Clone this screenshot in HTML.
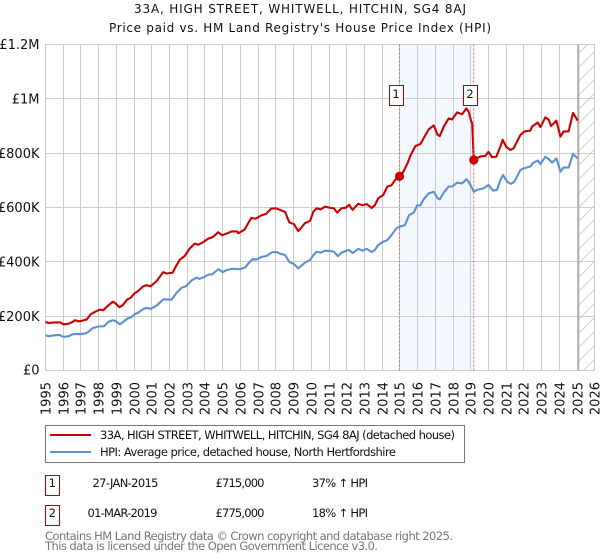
<!DOCTYPE html>
<html lang="en">
<head>
<meta charset="utf-8">
<title>33A, HIGH STREET, WHITWELL, HITCHIN, SG4 8AJ</title>
<style>
html,body{margin:0;padding:0;background:#fff;}
svg{display:block;font-family:"DejaVu Sans","Liberation Sans",sans-serif;}
text{fill:#111;}
</style>
</head>
<body>
<svg id="chart" xmlns="http://www.w3.org/2000/svg" width="600" height="560" viewBox="0 0 600 560">
<defs>
<pattern id="hatch" patternUnits="userSpaceOnUse" width="14" height="14" x="1" y="1">
<line x1="-1" y1="15" x2="15" y2="-1" stroke="#cfcfcf" stroke-width="1"/>
</pattern>
</defs>
<text x="300" y="13" font-size="12" text-anchor="middle" textLength="332" lengthAdjust="spacing">33A, HIGH STREET, WHITWELL, HITCHIN, SG4 8AJ</text>
<text x="300" y="32" font-size="12" text-anchor="middle" textLength="382" lengthAdjust="spacing">Price paid vs. HM Land Registry's House Price Index (HPI)</text>
<g id="plot-under"></g>
<g id="grid"></g>
<g id="y-axis"></g>
<g id="x-axis"></g>
<g id="series"></g>
<g id="sales"></g>

<rect x="45.5" y="425.5" width="419" height="37" fill="#fff" stroke="#777" stroke-width="1"/>
<line x1="50" y1="435" x2="91" y2="435" stroke="#cc0000" stroke-width="2"/>
<text x="100" y="439" font-size="11.5" textLength="355" lengthAdjust="spacing">33A, HIGH STREET, WHITWELL, HITCHIN, SG4 8AJ (detached house)</text>
<line x1="50" y1="452" x2="91" y2="452" stroke="#5f8fd2" stroke-width="2"/>
<text x="100" y="456" font-size="11.5" textLength="296" lengthAdjust="spacing">HPI: Average price, detached house, North Hertfordshire</text>

<rect x="45.5" y="475.5" width="14" height="20" fill="#fff" stroke="#b00000" stroke-width="1"/>
<text x="52.3" y="487" font-size="11.5" text-anchor="middle">1</text>
<text x="125.5" y="487" font-size="11.5" text-anchor="middle" textLength="66" lengthAdjust="spacing">27-JAN-2015</text>
<text x="240" y="487" font-size="11.5" text-anchor="middle" textLength="49" lengthAdjust="spacing">£715,000</text>
<text x="340" y="487" font-size="11.5" text-anchor="middle" textLength="56" lengthAdjust="spacing">37% ↑ HPI</text>

<rect x="45.5" y="505.5" width="14" height="20" fill="#fff" stroke="#b00000" stroke-width="1"/>
<text x="52.3" y="517" font-size="11.5" text-anchor="middle">2</text>
<text x="122.5" y="517" font-size="11.5" text-anchor="middle" textLength="70" lengthAdjust="spacing">01-MAR-2019</text>
<text x="240" y="517" font-size="11.5" text-anchor="middle" textLength="49" lengthAdjust="spacing">£775,000</text>
<text x="340" y="517" font-size="11.5" text-anchor="middle" textLength="56" lengthAdjust="spacing">18% ↑ HPI</text>

<text x="45" y="540" font-size="11.5" style="fill:#777" textLength="408" lengthAdjust="spacing">Contains HM Land Registry data © Crown copyright and database right 2025.</text>
<text x="45" y="550" font-size="11.5" style="fill:#777" textLength="333" lengthAdjust="spacing">This data is licensed under the Open Government Licence v3.0.</text>
</svg>
<script>
const priceDates = [1995.0,1995.17,1995.54,1995.83,1996.01,1996.29,1996.48,1996.67,1996.86,1997.05,1997.33,1997.55,1997.8,1998.04,1998.26,1998.55,1998.79,1998.92,1999.17,1999.35,1999.62,1999.8,2000.01,2000.23,2000.52,2000.7,2000.93,2001.27,2001.64,2001.83,2002.17,2002.39,2002.58,2002.86,2003.14,2003.42,2003.61,2003.89,2004.17,2004.46,2004.74,2004.96,2005.3,2005.49,2005.81,2005.88,2006.24,2006.43,2006.61,2006.86,2007.18,2007.46,2007.74,2008.02,2008.24,2008.52,2008.76,2009.02,2009.27,2009.64,2009.93,2010.12,2010.3,2010.53,2010.77,2011.05,2011.28,2011.46,2011.71,2011.94,2012.13,2012.33,2012.65,2012.9,2013.12,2013.41,2013.59,2013.78,2014.06,2014.29,2014.53,2014.72,2014.98,2015.2,2015.43,2015.59,2015.87,2016.16,2016.34,2016.63,2016.91,2017.13,2017.25,2017.47,2017.75,2017.94,2018.23,2018.51,2018.75,2018.88,2019.03,2019.08,2019.17,2019.54,2019.82,2020.0,2020.2,2020.44,2020.67,2020.8,2021.0,2021.23,2021.42,2021.8,2022.03,2022.36,2022.46,2022.78,2022.93,2023.21,2023.4,2023.53,2023.83,2024.06,2024.24,2024.52,2024.77,2025.03];
const priceValues = [179,175,177,177,170,172,177,185,181,183,188,207,216,224,222,240,253,249,233,240,262,267,283,293,310,314,310,329,362,357,360,387,408,422,449,467,463,472,485,492,509,498,506,512,512,505,519,541,561,559,571,577,596,597,591,584,545,539,513,542,551,585,597,593,603,599,597,581,597,599,610,591,614,608,613,598,609,634,646,677,682,701,715,732,763,790,826,834,855,888,902,867,863,897,928,924,950,943,965,953,916,910,775,788,790,805,785,787,824,849,824,812,818,867,880,883,898,913,896,932,923,900,920,861,880,880,948,920];
const hpiDates = [1995.0,1995.16,1995.54,1995.78,1996.0,1996.29,1996.57,1996.95,1997.23,1997.42,1997.66,1997.98,1998.3,1998.55,1998.79,1998.92,1999.2,1999.39,1999.62,1999.86,2000.05,2000.24,2000.52,2000.71,2000.94,2001.28,2001.65,2001.84,2002.12,2002.4,2002.69,2002.93,2003.25,2003.53,2003.68,2003.95,2004.19,2004.38,2004.76,2005.0,2005.23,2005.51,2005.83,2005.98,2006.26,2006.45,2006.7,2006.88,2007.2,2007.48,2007.77,2008.05,2008.24,2008.52,2008.76,2009.02,2009.27,2009.64,2009.93,2010.12,2010.3,2010.53,2010.77,2011.05,2011.28,2011.5,2011.73,2012.13,2012.33,2012.65,2012.9,2013.12,2013.41,2013.59,2013.78,2014.06,2014.29,2014.53,2014.8,2014.97,2015.28,2015.52,2015.78,2015.97,2016.16,2016.34,2016.63,2016.91,2017.13,2017.25,2017.47,2017.75,2017.94,2018.23,2018.51,2018.75,2018.88,2019.03,2019.17,2019.36,2019.73,2020.0,2020.25,2020.48,2020.67,2020.82,2021.05,2021.27,2021.46,2021.8,2022.03,2022.36,2022.5,2022.78,2022.93,2023.21,2023.4,2023.59,2023.83,2024.06,2024.24,2024.52,2024.77,2025.03];
const hpiValues = [130,126,130,131,124,126,134,134,136,142,156,162,163,179,185,183,170,179,191,197,208,213,227,230,227,239,262,261,261,286,305,310,332,342,337,344,353,353,373,362,370,374,374,373,379,394,411,408,418,422,435,436,430,425,400,392,376,397,407,425,437,434,441,440,437,421,435,444,432,448,441,448,436,444,462,474,480,499,523,529,535,572,581,607,608,630,652,658,634,630,654,677,677,691,689,704,695,677,658,665,671,683,662,665,701,720,695,687,695,738,745,751,763,773,760,787,778,765,781,732,747,747,797,781];
const saleDates = [2014.98, 2019.17];
const saleValues = [715, 775];
const saleLabels = ['1', '2'];
const yTickValues = [0, 200, 400, 600, 800, 1000, 1200];
const yTickLabels = ['£0', '£200K', '£400K', '£600K', '£800K', '£1M', '£1.2M'];
const xTickYears = [1995,1996,1997,1998,1999,2000,2001,2002,2003,2004,2005,2006,2007,2008,2009,2010,2011,2012,2013,2014,2015,2016,2017,2018,2019,2020,2021,2022,2023,2024,2025,2026];
const dataEnd = 2025.08;

const NS = 'http://www.w3.org/2000/svg';
const xScale = t => 45.5 + (t - 1995) * 17.72;
const yScale = v => 370.5 - v * 0.27167;
const crisp = p => Math.floor(p) + 0.5;
function make(parent, tag, attrs) {
  const el = document.createElementNS(NS, tag);
  for (const k in attrs) el.setAttribute(k, attrs[k]);
  parent.appendChild(el);
  return el;
}
const top_ = yScale(1200), bottom = yScale(0), left = xScale(1995), right = xScale(2026);
const under = document.getElementById('plot-under');
const grid = document.getElementById('grid');
const yAxis = document.getElementById('y-axis');
const xAxis = document.getElementById('x-axis');
const series = document.getElementById('series');
const sales = document.getElementById('sales');

const span = make(under, 'rect', {x: xScale(saleDates[0]), y: crisp(top_), width: xScale(saleDates[1]) - xScale(saleDates[0]), height: crisp(bottom) - crisp(top_), fill: '#f3f7fe'});



const hatchRect = make(under, 'rect', {x: xScale(dataEnd), y: crisp(top_), width: crisp(right) - xScale(dataEnd), height: crisp(bottom) - crisp(top_), fill: 'url(#hatch)'});



yTickValues.forEach((v, i) => {
  const y = crisp(yScale(v));
  const line = make(grid, 'line', {x1: crisp(left) - 0.5, x2: crisp(right) + 0.5, y1: y, y2: y, stroke: '#cccccc', 'stroke-width': 1});
  
  
  const label = make(yAxis, 'text', {x: 39.5, y: Math.min(yScale(v) + 4.7, 374.5), 'font-size': 13, 'text-anchor': 'end'});
  label.textContent = yTickLabels[i];
  
  
});

xTickYears.forEach(yr => {
  const x = crisp(xScale(yr));
  const line = make(grid, 'line', {x1: x, x2: x, y1: crisp(top_), y2: crisp(bottom), stroke: '#cccccc', 'stroke-width': 1});
  
  
  const label = make(xAxis, 'text', {x: x + 5, y: 382, 'font-size': 13, 'text-anchor': 'end', transform: 'rotate(-90 ' + (x + 5) + ' 382)'});
  label.textContent = yr;
  
  
});

const endLine = make(grid, 'line', {x1: xScale(dataEnd), x2: xScale(dataEnd), y1: crisp(top_), y2: crisp(bottom), stroke: '#aaaaaa', 'stroke-width': 1.5});



function pathFrom(ds, vs) {
  return ds.map((d, i) => (i ? 'L' : 'M') + xScale(d).toFixed(2) + ' ' + yScale(vs[i]).toFixed(2)).join(' ');
}
const hpiPath = make(series, 'path', {d: pathFrom(hpiDates, hpiValues), fill: 'none', stroke: '#5f8fd2', 'stroke-width': 2.1, 'stroke-linejoin': 'round'});


const pricePath = make(series, 'path', {d: pathFrom(priceDates, priceValues), fill: 'none', stroke: '#cc0000', 'stroke-width': 2.1, 'stroke-linejoin': 'round'});



saleDates.forEach((d, i) => {
  const x = xScale(d), y = yScale(saleValues[i]);
  const vline = make(sales, 'line', {x1: x, x2: x, y1: crisp(top_), y2: crisp(bottom), stroke: '#e06666', 'stroke-width': 1, 'stroke-dasharray': '2 2'});
  
  
  const dot = make(sales, 'circle', {cx: x, cy: y, r: 4.6, fill: '#cc0000'});
  
  
  const box = make(sales, 'rect', {x: Math.floor(x) - 9.5, y: 85.5, width: 14, height: 20, fill: '#fff', stroke: '#b00000', 'stroke-width': 1});
  
  
  const num = make(sales, 'text', {x: Math.floor(x) - 3, y: 98, 'font-size': 11.5, 'text-anchor': 'middle'});
  num.textContent = saleLabels[i];
  
  
});
</script>
</body>
</html>
